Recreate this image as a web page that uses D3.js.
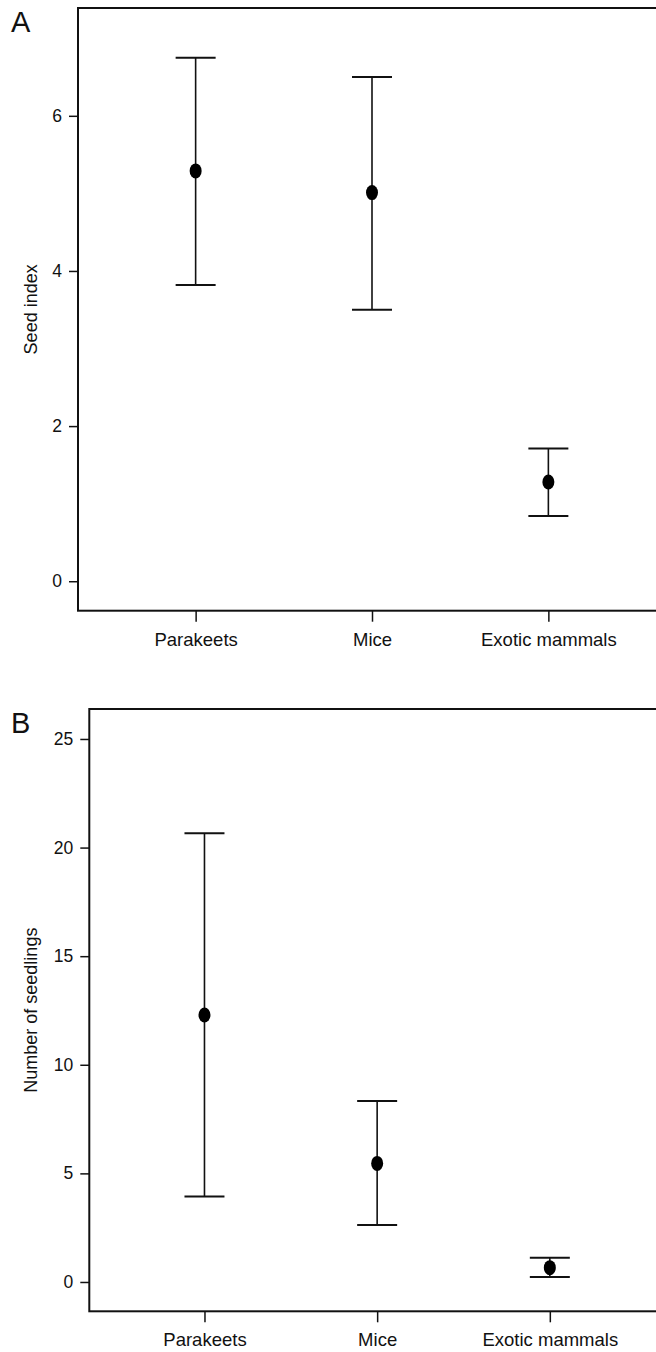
<!DOCTYPE html>
<html>
<head>
<meta charset="utf-8">
<script src="https://cdn.jsdelivr.net/npm/d3@7"></script>
<style>
  html, body { margin: 0; padding: 0; background: #fff; }
  svg { display: block; font-family: "Liberation Sans", Arial, Helvetica, sans-serif; }
</style>
</head>
<body>
<svg id="chart"></svg>
<script>
const categories = ["Parakeets", "Mice", "Exotic mammals"]

// Panel A: seed index
const seedMean = [5.29, 5.01, 1.28]
const seedLow = [3.82, 3.50, 0.84]
const seedHigh = [6.75, 6.50, 1.71]
const seedTicks = [0, 2, 4, 6]

// Panel B: number of seedlings
const seedlingMean = [12.29, 5.46, 0.66]
const seedlingLow = [3.93, 2.62, 0.23]
const seedlingHigh = [20.66, 8.33, 1.12]
const seedlingTicks = [0, 5, 10, 15, 20, 25]

const width = 656
const height = 1352

const svg = d3.select("#chart")
  .attr("width", width)
  .attr("height", height)

const panels = [
  {
    letter: "A", yLabel: "Seed index",
    mean: seedMean, low: seedLow, high: seedHigh, ticks: seedTicks,
    left: 78, right: 666, top: 8, bottom: 610.7,
    domain: [-0.38, 7.39], letterY: 32
  },
  {
    letter: "B", yLabel: "Number of seedlings",
    mean: seedlingMean, low: seedlingLow, high: seedlingHigh, ticks: seedlingTicks,
    left: 89.3, right: 665, top: 709, bottom: 1311.3,
    domain: [-1.35, 26.38], letterY: 733
  }
]

panels.forEach(drawPanel)

function drawPanel(p) {
  const g = svg.append("g")

  const x = d3.scalePoint()
    .domain(categories)
    .range([p.left, p.right])
    .padding(0.667)

  const y = d3.scaleLinear()
    .domain(p.domain)
    .range([p.bottom, p.top])

  // plot frame (right side runs off the page)
  g.append("rect")
    .attr("x", p.left)
    .attr("y", p.top)
    .attr("width", p.right - p.left)
    .attr("height", p.bottom - p.top)
    .attr("fill", "none")
    .attr("stroke", "#111")
    .attr("stroke-width", 2)

  g.append("g")
    .attr("transform", `translate(${p.left},0)`)
    .call(d3.axisLeft(y).tickValues(p.ticks).tickSize(9).tickPadding(7))
    .call(a => a.select(".domain").remove())
    .call(a => a.selectAll(".tick line").attr("stroke", "#111").attr("stroke-width", 1.5))
    .call(a => a.selectAll(".tick text")
      .attr("fill", "#111")
      .attr("font-size", 17.5)
      .attr("font-family", null))

  g.append("g")
    .attr("transform", `translate(0,${p.bottom})`)
    .call(d3.axisBottom(x).tickSize(11).tickPadding(11))
    .call(a => a.select(".domain").remove())
    .call(a => a.selectAll(".tick line").attr("stroke", "#111").attr("stroke-width", 1.5))
    .call(a => a.selectAll(".tick text")
      .attr("fill", "#111")
      .attr("font-size", 18.5)
      .attr("font-family", null))

  // y-axis title
  g.append("text")
    .attr("transform", `translate(37,${(p.top + p.bottom) / 2}) rotate(-90)`)
    .attr("text-anchor", "middle")
    .attr("font-size", 18)
    .attr("fill", "#111")
    .text(p.yLabel)

  // panel letter
  g.append("text")
    .attr("x", 11)
    .attr("y", p.letterY)
    .attr("font-size", 29)
    .attr("fill", "#111")
    .text(p.letter)

  const rows = categories.map((c, i) => ({
    cat: c, mean: p.mean[i], low: p.low[i], high: p.high[i]
  }))

  const bars = g.append("g")
    .selectAll("g")
    .data(rows)
    .join("g")
    .attr("transform", d => `translate(${x(d.cat)},0)`)

  bars.append("line")
    .attr("y1", d => y(d.low))
    .attr("y2", d => y(d.high))
    .attr("stroke", "#111")
    .attr("stroke-width", 1.6)

  bars.selectAll(".cap")
    .data(d => [d.low, d.high])
    .join("line")
    .attr("class", "cap")
    .attr("x1", -20)
    .attr("x2", 20)
    .attr("y1", v => y(v))
    .attr("y2", v => y(v))
    .attr("stroke", "#111")
    .attr("stroke-width", 2)

  bars.append("ellipse")
    .attr("cy", d => y(d.mean))
    .attr("rx", 6)
    .attr("ry", 7.5)
    .attr("fill", "#000")
}
</script>
</body>
</html>
